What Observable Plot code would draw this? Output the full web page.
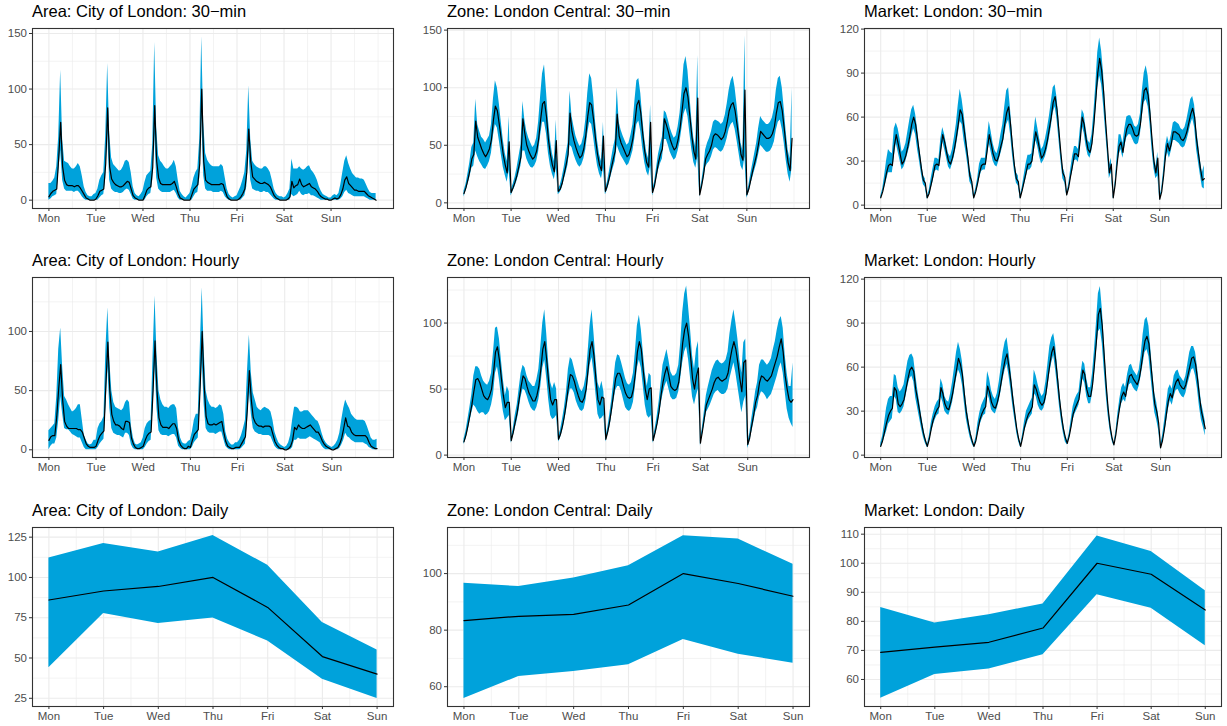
<!DOCTYPE html>
<html><head><meta charset="utf-8">
<script src="https://cdn.jsdelivr.net/npm/d3@7"></script>
<script src="https://cdn.jsdelivr.net/npm/@observablehq/plot@0.6"></script>
<style>
body{margin:0;background:#fff;font-family:"Liberation Sans",Arial,sans-serif;}
#root{position:relative;width:1227px;height:726px;overflow:hidden;background:#fff}
.title{position:absolute;font-size:16.5px;line-height:16px;color:#000;white-space:nowrap}
.cell{position:absolute}
.cell svg [aria-label$="tick label"]{fill:#4D4D4D}
</style></head><body><div id="root"></div>
<script>
const days = ["Mon","Tue","Wed","Thu","Fri","Sat","Sun"];

// ---- Area: City of London, 30-min (read at hourly steps) ----
const cityHalfMean = [
 3,6,8,9,10,38,70,30,18,14,13,13,13,12,13,13,11,8,5,2,1,0,0,0,
 1,4,8,9,10,33,83,30,19,16,14,13,12,12,13,15,17,16,10,4,2,1,0,0,
 0,4,9,11,12,30,85,35,20,15,14,14,14,14,14,15,17,12,6,2,1,0,0,0,
 0,5,10,12,14,33,100,35,18,16,15,14,14,14,14,14,15,14,8,3,1,0,0,0,
 0,1,3,6,10,25,64,35,21,19,17,16,15,15,16,15,14,12,8,4,2,1,0,0,
 0,0,1,3,17,11,13,14,19,14,12,13,14,15,12,11,10,8,5,3,2,1,1,0,
 0,1,2,1,2,5,10,18,21,15,13,11,9,9,8,8,8,8,6,4,3,2,1,0];
const cityHalfHi = [
 15,15,17,20,30,57,117,55,35,34,33,30,28,28,30,33,30,22,12,7,4,3,3,5,
 6,10,18,22,25,58,123,60,38,32,30,28,26,27,30,35,36,34,25,12,6,4,3,5,
 8,16,22,24,26,50,142,65,40,35,33,30,28,28,30,32,36,30,18,8,5,3,2,4,
 6,12,20,25,28,55,147,70,42,36,33,31,30,30,30,30,32,30,20,10,5,3,2,3,
 4,8,12,18,25,45,103,55,35,32,30,29,28,28,30,30,28,25,18,10,6,4,3,3,
 2,3,6,10,37,28,28,28,30,28,27,28,30,31,27,25,22,18,12,8,5,4,3,2,
 2,4,5,4,6,14,25,35,40,33,28,24,22,20,20,19,19,18,14,10,7,6,6,6];
const cityHalfLo = [
 0,1,3,4,5,25,45,18,10,8,8,8,8,7,8,8,6,3,1,0,0,0,0,0,
 0,0,2,4,5,20,60,18,10,8,7,7,6,6,7,9,10,9,5,1,0,0,0,0,
 0,0,3,5,6,18,60,20,10,8,7,7,7,7,7,8,9,6,2,0,0,0,0,0,
 0,0,3,6,7,20,75,22,10,8,8,8,7,7,7,7,8,7,3,1,0,0,0,0,
 0,0,0,2,4,12,45,18,10,9,8,8,7,7,8,7,7,5,3,1,0,0,0,0,
 0,0,0,0,5,3,4,5,8,5,4,5,5,6,4,4,3,2,1,0,0,0,0,0,
 0,0,0,0,0,1,3,7,9,6,5,4,3,3,3,3,3,3,2,1,0,0,0,0];

// ---- Zone: London Central, 30-min ----
const zoneHalfMean = [
 8,13,20,28,38,42,71,57,52,47,43,40,43,47,55,72,84,80,68,55,42,33,26,53,
 9,13,18,24,32,40,73,60,50,45,41,38,40,45,55,72,86,88,75,55,42,33,27,54,
 10,12,17,25,33,42,78,62,54,48,43,39,41,47,58,75,87,85,72,55,42,33,28,58,
 10,15,22,30,38,45,77,58,52,48,44,40,42,48,56,70,85,89,78,60,45,35,31,70,
 9,15,25,35,42,47,73,68,62,55,50,46,48,55,65,80,95,100,92,75,58,45,38,91,
 7,15,25,38,42,45,50,58,60,59,57,55,57,62,70,80,85,87,80,68,55,42,37,98,
 7,12,20,28,35,42,52,62,60,58,56,56,57,60,66,78,87,88,80,65,48,35,28,56];
const zoneHalfHi = [
 10,16,25,35,48,52,90,68,62,57,55,52,55,58,68,90,106,100,86,70,55,43,36,75,
 11,16,22,30,40,50,88,72,62,56,52,48,50,56,70,92,112,120,97,72,55,43,36,72,
 12,15,22,31,42,52,97,75,66,58,53,49,51,58,72,95,112,108,92,70,54,42,36,70,
 12,18,27,37,47,55,100,70,63,58,54,50,52,59,68,88,106,108,95,74,56,44,38,85,
 12,18,30,42,50,57,80,78,72,65,60,56,58,66,78,98,120,127,115,93,72,56,48,128,
 9,18,30,46,52,56,62,70,72,71,70,68,70,76,86,98,106,110,100,85,68,52,45,145,
 9,15,25,34,43,52,65,75,72,70,68,68,70,74,82,98,108,110,100,82,62,46,38,100];
const zoneHalfLo = [
 5,10,16,22,30,32,45,40,36,33,30,29,32,36,43,58,68,65,54,42,31,24,18,28,
 6,10,14,19,25,32,45,45,38,34,31,30,32,36,44,58,70,70,60,43,32,25,20,30,
 7,9,13,20,26,33,50,48,42,37,33,31,33,38,46,60,70,68,57,43,32,25,21,30,
 7,11,17,24,30,36,50,45,41,38,35,32,34,39,45,56,68,71,62,47,35,27,23,32,
 6,12,20,28,34,38,55,55,50,44,40,37,39,45,53,65,77,82,75,60,46,35,30,40,
 5,12,20,31,34,36,40,46,48,47,45,44,46,50,56,64,68,70,64,54,43,32,28,40,
 4,9,16,22,28,34,42,50,48,46,44,44,45,48,53,63,70,72,64,52,37,25,18,30];

// ---- Market: London, 30-min ----
const marketHalfMean = [
 5,9,15,22,27,28,27,40,48,42,35,28,30,34,40,47,55,60,55,45,35,25,17,15,
 5,8,14,20,27,28,27,38,48,43,36,30,28,32,38,46,55,65,62,52,42,32,20,16,
 5,9,15,22,27,28,28,38,48,42,35,31,30,34,40,45,55,63,67,55,40,27,18,16,
 5,10,16,22,28,28,30,40,50,45,38,32,34,38,44,52,60,70,74,65,50,35,22,19,
 7,12,20,27,35,35,33,45,60,55,45,38,36,42,55,72,90,100,92,78,58,40,22,28,
 5,14,28,40,43,36,45,52,55,55,52,48,47,48,55,68,78,80,75,62,45,30,22,32,
 4,9,20,34,42,37,42,50,50,49,48,45,44,46,50,56,62,66,60,45,35,25,17,18];
const marketHalfHi = [
 6,11,20,30,38,36,35,52,56,52,45,36,38,42,50,58,65,68,62,52,40,30,20,18,
 6,10,18,25,32,32,31,45,53,48,41,35,33,38,46,55,68,79,72,62,50,38,25,20,
 6,11,18,28,32,32,32,45,57,50,42,37,35,40,48,55,67,78,80,65,48,32,22,20,
 6,12,20,28,34,34,35,48,60,53,45,38,40,45,52,60,70,80,82,73,58,40,26,22,
 8,14,24,33,40,40,38,52,65,62,52,44,42,48,63,82,104,114,105,90,66,46,27,32,
 6,16,33,48,48,42,52,60,61,61,58,54,53,55,62,78,90,95,88,72,52,35,26,36,
 5,11,24,40,47,42,48,56,57,56,55,52,51,53,58,65,72,74,68,52,42,30,22,27];
const marketHalfLo = [
 4,8,12,17,22,22,22,33,42,36,30,24,26,30,35,40,47,52,48,38,30,21,14,12,
 4,7,11,16,23,24,23,33,43,38,32,26,24,28,33,40,48,57,55,44,36,27,16,13,
 4,7,12,18,23,24,24,33,42,36,30,27,26,30,35,40,48,55,58,48,34,23,15,13,
 4,8,13,18,24,24,26,34,44,40,33,28,30,33,38,45,53,63,67,58,44,30,18,15,
 6,10,17,23,30,31,29,40,54,49,40,34,32,37,49,64,80,88,82,68,51,35,18,22,
 4,12,24,34,38,32,40,46,48,48,45,42,41,42,48,60,70,72,67,55,38,25,18,20,
 3,8,16,29,36,32,37,44,44,43,42,40,39,40,44,49,55,59,53,38,29,20,12,11];

// ---- Area: City of London, hourly ----
const cityHourMean = [
 8,11,12,12,28,52,72,42,24,20,18,18,18,18,18,17,17,15,10,5,3,2,2,2,
 3,8,12,14,16,55,91,50,30,24,21,21,20,18,17,24,24,23,10,5,2,1,1,2,
 3,8,12,14,15,50,92,50,27,21,19,19,19,18,20,22,22,18,8,4,2,1,1,3,
 2,8,13,15,17,55,100,55,28,22,21,21,22,21,22,23,24,15,7,3,2,1,1,2,
 2,2,5,8,11,35,67,42,27,23,21,20,20,19,20,20,20,19,13,7,4,2,1,1,
 0,0,1,3,8,19,17,21,19,18,18,19,20,21,19,17,15,15,12,8,5,3,2,1,
 0,0,1,2,5,10,18,27,20,19,15,13,12,12,12,12,12,12,10,6,3,2,1,1];
const cityHourHi = [
 16,18,20,22,45,85,103,70,45,42,38,35,32,33,35,38,38,25,12,8,5,4,5,8,
 8,18,22,24,28,85,120,75,50,40,36,35,34,33,35,40,42,40,20,10,5,4,5,6,
 10,18,22,24,25,80,130,80,50,42,38,36,36,35,37,38,38,35,18,10,6,5,5,7,
 8,15,25,30,30,85,137,85,50,42,38,36,36,35,36,38,37,30,15,9,6,4,4,6,
 6,8,12,18,25,65,97,65,48,42,36,34,33,35,36,35,34,32,25,15,10,6,4,3,
 2,3,6,12,25,36,36,35,32,32,33,33,33,31,29,27,25,24,20,14,9,6,4,3,
 2,3,5,8,14,25,35,42,38,35,30,28,26,25,25,25,25,24,20,15,10,8,8,9];
const cityHourLo = [
 0,3,5,5,10,25,45,30,18,17,17,15,13,12,11,10,10,6,2,0,0,0,0,0,
 0,2,5,7,9,35,70,35,18,14,13,12,12,11,10,14,14,12,4,1,0,0,0,0,
 0,2,5,7,8,35,72,35,16,13,12,12,12,11,12,13,13,10,3,1,0,0,0,0,
 0,2,6,8,10,40,75,38,18,15,14,14,14,13,14,15,15,9,3,1,0,0,0,0,
 0,0,1,3,5,22,50,30,18,15,14,13,13,12,12,12,12,11,7,3,1,0,0,0,
 0,0,0,0,2,8,8,10,9,9,9,9,10,11,10,9,8,7,6,3,1,0,0,0,
 0,0,0,0,1,4,8,14,11,10,8,7,6,6,6,6,6,5,4,2,1,0,0,0];

// ---- Zone: London Central, hourly ----
const zoneHourMean = [
 10,15,22,30,38,48,57,58,55,50,45,43,42,45,50,62,78,82,72,58,45,36,40,40,
 11,17,25,32,42,52,60,58,52,47,44,41,41,45,52,65,80,86,72,55,42,38,42,42,
 12,16,22,30,40,52,61,60,56,50,45,41,40,43,50,65,80,86,75,57,42,38,44,43,
 12,18,26,36,47,58,62,62,58,52,47,44,43,44,50,62,78,86,80,64,50,42,50,51,
 11,17,24,33,45,55,62,67,60,52,50,49,50,55,68,85,95,100,90,75,58,50,60,66,
 9,18,28,38,42,46,50,55,58,59,57,56,57,58,62,72,80,86,80,70,58,48,70,72,
 8,13,22,30,40,45,55,60,59,57,56,58,60,65,70,75,82,88,78,60,50,42,40,42];
const zoneHourHi = [
 12,18,27,36,46,60,67,67,65,60,56,54,53,56,62,78,96,97,88,72,57,45,52,48,
 13,20,30,38,50,62,68,66,60,56,54,52,52,57,65,82,100,110,92,70,55,50,55,50,
 14,19,27,36,48,65,74,72,66,60,55,50,48,52,60,78,98,110,92,72,55,50,56,48,
 14,21,31,42,56,70,76,75,70,64,58,54,53,55,62,78,98,106,95,78,62,52,62,60,
 13,20,29,40,54,68,74,80,72,63,60,60,62,68,85,108,122,128,112,95,75,65,80,86,
 11,21,33,45,52,58,64,68,71,72,70,69,70,72,78,92,102,110,100,88,72,62,85,88,
 10,16,27,37,48,55,68,72,72,70,68,70,73,80,86,95,102,105,96,76,62,52,52,70];
const zoneHourLo = [
 8,12,18,25,32,38,36,33,31,32,32,30,31,33,38,46,62,67,57,44,33,26,28,30,
 9,14,20,26,34,44,50,49,45,40,36,34,33,36,42,52,66,72,58,42,30,27,28,30,
 10,13,18,25,33,43,50,50,47,41,37,34,33,35,42,55,68,74,62,46,31,27,28,30,
 10,15,21,30,40,49,52,52,48,42,36,34,33,35,40,52,66,72,66,52,38,30,28,30,
 9,14,20,28,38,46,52,56,50,44,42,42,43,48,58,70,78,82,72,58,44,38,45,50,
 7,15,23,32,35,38,42,46,48,49,47,46,46,47,50,58,64,70,62,52,42,32,40,45,
 5,10,17,24,32,36,44,48,47,45,42,44,46,50,55,60,66,70,62,48,35,28,24,21];

// ---- Market: London, hourly ----
const marketHourMean = [
 6,10,16,22,27,30,32,46,44,35,33,35,38,45,52,58,60,57,45,38,30,22,15,10,
 6,11,18,24,28,31,33,46,42,35,32,31,36,42,50,58,66,62,55,42,30,22,15,10,
 6,10,17,24,28,31,33,47,43,36,33,32,36,42,50,58,65,69,60,50,38,28,18,11,
 6,12,19,24,28,30,33,48,45,40,36,34,36,42,52,62,70,74,65,52,38,27,18,12,
 8,13,20,28,32,35,38,48,58,55,45,40,40,48,62,78,96,100,88,68,48,32,20,12,
 7,14,24,33,40,43,40,48,54,55,52,50,48,52,60,70,78,81,76,62,48,35,30,22,
 5,10,18,28,37,42,39,46,50,52,48,46,45,48,54,60,66,67,62,52,40,30,24,18];
const marketHourHi = [
 8,13,22,32,38,40,40,55,54,46,43,45,48,56,64,68,69,66,55,45,36,27,19,12,
 7,13,22,28,33,36,38,52,48,40,37,36,42,50,60,70,77,72,64,50,36,27,18,12,
 7,12,22,29,34,37,40,57,52,44,40,38,42,50,60,70,77,80,70,58,45,33,22,13,
 7,14,23,30,33,36,39,58,54,48,43,40,42,50,62,74,80,83,75,60,45,32,22,14,
 9,15,24,33,38,41,43,55,64,62,52,46,46,56,72,90,110,115,100,78,56,38,24,14,
 8,16,28,38,46,49,46,55,61,62,58,56,54,58,68,82,92,94,88,72,56,42,36,27,
 7,13,23,34,45,48,45,54,57,58,54,52,50,54,62,70,74,74,70,60,48,36,30,23];
const marketHourLo = [
 5,8,12,16,21,23,25,40,38,29,28,30,33,40,47,52,54,50,39,32,25,18,12,8,
 5,9,15,20,24,27,28,40,36,30,28,27,31,36,44,52,58,55,48,36,25,18,12,8,
 5,8,14,20,24,27,28,42,38,31,29,28,32,37,44,52,58,62,54,44,33,24,15,9,
 5,10,16,20,24,26,28,42,40,34,31,30,32,37,46,56,63,68,58,46,33,23,15,9,
 7,11,17,24,28,31,34,43,52,49,40,35,35,42,55,70,84,86,76,58,41,27,17,10,
 6,12,21,29,35,38,36,43,48,49,46,44,43,47,54,62,70,72,67,54,41,29,24,17,
 4,8,14,22,31,37,34,40,44,45,42,40,39,42,48,53,58,59,54,45,33,24,19,13];

// ---- Daily ----
const cityDayMean = [86, 91.6, 94.4, 100, 81.4, 50.9, 40];
const cityDayHi   = [112, 121, 115.8, 126, 107.6, 72, 55];
const cityDayLo   = [44, 77.6, 71.4, 74.8, 60.6, 36.8, 24.8];
const zoneDayMean = [83.4, 84.9, 85.6, 88.9, 100, 96.5, 92];
const zoneDayHi   = [96.6, 95.4, 98.4, 102.8, 113.4, 112.2, 103.3];
const zoneDayLo   = [55.8, 63.6, 65.4, 67.8, 76.7, 71.5, 68.3];
const marketDayMean = [69.3, 71.1, 72.8, 77.7, 100, 96.2, 83.9];
const marketDayHi   = [84.8, 79.4, 82.3, 86, 109.4, 104, 90.5];
const marketDayLo   = [53.5, 61.7, 63.6, 68.5, 89.2, 84.5, 71.6];

// ---- Layout / scales ----
const BAND = "#00A2DB";
const hourMajor = d3.range(0, 168, 24);
const hourMinor = d3.range(12, 169, 24).concat([168]);
const dayMajor = d3.range(0, 7);
const dayMinor = d3.range(0.5, 6, 1);
const hoursX = d3.range(168);

const cols = [{left:32, w:361}, {left:447, w:362}, {left:864, w:357}];
const rows = [{top:28, h:180}, {top:277, h:180}, {top:527, h:179}];

const panels = [
  {title:"Area: City of London: 30\u2212min", r:0, c:0, mean:cityHalfMean, lo:cityHalfLo, hi:cityHalfHi, kind:"half",
   yDomain:[-7.5,154.5], yMajor:[0,50,100,150], yMinor:[25,75,125]},
  {title:"Zone: London Central: 30\u2212min", r:0, c:1, mean:zoneHalfMean, lo:zoneHalfLo, hi:zoneHalfHi, kind:"half",
   yDomain:[-4.9,151.4], yMajor:[0,50,100,150], yMinor:[25,75,125]},
  {title:"Market: London: 30\u2212min", r:0, c:2, mean:marketHalfMean, lo:marketHalfLo, hi:marketHalfHi, kind:"half",
   yDomain:[-2.3,120.4], yMajor:[0,30,60,90,120], yMinor:[15,45,75,105]},
  {title:"Area: City of London: Hourly", r:1, c:0, mean:cityHourMean, lo:cityHourLo, hi:cityHourHi, kind:"hour",
   yDomain:[-6.5,145.6], yMajor:[0,50,100], yMinor:[25,75,125]},
  {title:"Zone: London Central: Hourly", r:1, c:1, mean:zoneHourMean, lo:zoneHourLo, hi:zoneHourHi, kind:"hour",
   yDomain:[-1.8,134.5], yMajor:[0,50,100], yMinor:[25,75,125]},
  {title:"Market: London: Hourly", r:1, c:2, mean:marketHourMean, lo:marketHourLo, hi:marketHourHi, kind:"hour",
   yDomain:[-1.6,121.1], yMajor:[0,30,60,90,120], yMinor:[15,45,75,105]},
  {title:"Area: City of London: Daily", r:2, c:0, mean:cityDayMean, lo:cityDayLo, hi:cityDayHi, kind:"day",
   yDomain:[19.9,131], yMajor:[25,50,75,100,125], yMinor:[37.5,62.5,87.5,112.5]},
  {title:"Zone: London Central: Daily", r:2, c:1, mean:zoneDayMean, lo:zoneDayLo, hi:zoneDayHi, kind:"day",
   yDomain:[53,116.3], yMajor:[60,80,100], yMinor:[70,90,110]},
  {title:"Market: London: Daily", r:2, c:2, mean:marketDayMean, lo:marketDayLo, hi:marketDayHi, kind:"day",
   yDomain:[50.7,112.3], yMajor:[60,70,80,90,100,110], yMinor:[55,65,75,85,95,105]}
];

const root = document.getElementById("root");
const ML = 40, MR = 6, MT = 8, MB = 28;

for (const p of panels) {
  const col = cols[p.c], row = rows[p.r];
  const isDay = p.kind === "day";
  const xs = isDay ? dayMajor : hoursX;
  const xEnd = p.kind === "half" ? 167.5 : (p.kind === "hour" ? 167 : 6);
  const xDomain = [-0.05 * xEnd, xEnd * 1.05];
  const xMajor = isDay ? dayMajor : hourMajor;
  const xMinor = isDay ? dayMinor : hourMinor;
  const fmt = isDay ? (d => days[d]) : (d => days[d / 24]);
  const data = p.mean.map((m, i) => ({x: xs[i], m, lo: p.lo[i], hi: p.hi[i]}));
  const svg = Plot.plot({
    width: col.w + ML + MR, height: row.h + MT + MB,
    marginLeft: ML, marginRight: MR, marginTop: MT, marginBottom: MB,
    x: {domain: xDomain},
    y: {domain: p.yDomain},
    style: {background: "transparent", fontFamily: "'Liberation Sans', Arial, sans-serif", fontSize: "11.5px", color: "#333333", overflow: "visible"},
    marks: [
      Plot.gridX(xMinor, {stroke: "#EBEBEB", strokeOpacity: 1, strokeWidth: 0.6}),
      Plot.gridY(p.yMinor, {stroke: "#EBEBEB", strokeOpacity: 1, strokeWidth: 0.6}),
      Plot.gridX(xMajor, {stroke: "#EBEBEB", strokeOpacity: 1, strokeWidth: 1.1}),
      Plot.gridY(p.yMajor, {stroke: "#EBEBEB", strokeOpacity: 1, strokeWidth: 1.1}),
      Plot.areaY(data, {x: "x", y1: "lo", y2: "hi", fill: BAND}),
      Plot.line(data, {x: "x", y: "m", stroke: "#000", strokeWidth: 1.2}),
      Plot.frame({stroke: "#333333", strokeWidth: 1.1}),
      Plot.axisX(xMajor, {tickFormat: fmt, tickSize: 3, tickPadding: 2, label: null}),
      Plot.axisY(p.yMajor, {tickSize: 3, tickPadding: 2.5, label: null})
    ]
  });
  const cell = document.createElement("div");
  cell.className = "cell";
  cell.style.left = (col.left - ML) + "px";
  cell.style.top = (row.top - MT) + "px";
  cell.appendChild(svg);
  root.appendChild(cell);

  const t = document.createElement("div");
  t.className = "title";
  t.textContent = p.title;
  t.style.left = col.left + "px";
  t.style.top = (row.top - 25) + "px";
  root.appendChild(t);
}
</script>
</body></html>
